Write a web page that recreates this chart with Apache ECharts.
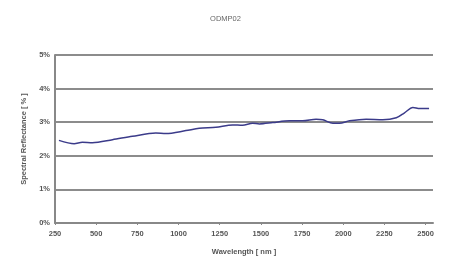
<!DOCTYPE html>
<html>
<head>
<meta charset="utf-8">
<script src="https://cdn.jsdelivr.net/npm/echarts@6/dist/echarts.min.js"></script>
<style>
  html, body { margin: 0; padding: 0; background: #fff; }
  #chart { width: 451px; height: 261px; }
</style>
</head>
<body>
<div id="chart"></div>
<script>
// 波长 (nm)
const wavelengths = [274, 366, 416, 477, 599, 720, 862, 923, 1045, 1126, 1227, 1328, 1389, 1450, 1491,
    1572, 1673, 1754, 1835, 1876, 1937, 1977, 2038, 2139, 2240, 2322, 2372, 2423, 2464, 2521];
// 光谱反射率 (%)
const reflectance = [2.46, 2.36, 2.40, 2.39, 2.48, 2.58, 2.68, 2.66, 2.75, 2.82, 2.85, 2.92, 2.91, 2.97, 2.95,
    2.99, 3.04, 3.04, 3.09, 3.07, 2.97, 2.97, 3.04, 3.09, 3.07, 3.13, 3.28, 3.44, 3.41, 3.41];

const chart = echarts.init(document.getElementById('chart'));

const labelStyle = { color: '#555', fontSize: 7.5, fontWeight: 'bold', fontFamily: 'Liberation Sans' };

chart.setOption({
    backgroundColor: '#fff',
    animation: false,
    title: {
        text: 'ODMP02',
        left: 'center',
        top: 10,
        textStyle: { color: '#666', fontSize: 7.5, fontWeight: 'normal', fontFamily: 'Liberation Sans' }
    },
    grid: { left: 55, right: 18, top: 55, bottom: 36 },
    xAxis: {
        type: 'value',
        min: 250,
        max: 2545,
        interval: 250,
        name: 'Wavelength [ nm ]',
        nameLocation: 'middle',
        nameGap: 25,
        nameTextStyle: labelStyle,
        axisLine: { lineStyle: { color: '#888', width: 2 } },
        axisTick: { show: true, length: 2, lineStyle: { color: '#888' } },
        axisLabel: Object.assign({ margin: 7, showMaxLabel: false, formatter: v => String(v) }, labelStyle),
        splitLine: { show: false }
    },
    yAxis: {
        type: 'value',
        min: 0,
        max: 5,
        interval: 1,
        name: 'Spectral Reflectance [ % ]',
        nameLocation: 'middle',
        nameGap: 17,
        nameTextStyle: labelStyle,
        axisLine: { show: true, lineStyle: { color: '#888', width: 2 } },
        axisTick: { show: false },
        axisLabel: Object.assign({ formatter: '{value}%', margin: 5 }, labelStyle),
        splitLine: { show: true, lineStyle: { color: '#666', width: 1.5 } }
    },
    series: [{
        type: 'line',
        data: wavelengths.map((w, i) => [w, reflectance[i]]),
        showSymbol: false,
        smooth: 0.3,
        lineStyle: { color: '#3b3b8a', width: 1.5 }
    }]
});
</script>
</body>
</html>
